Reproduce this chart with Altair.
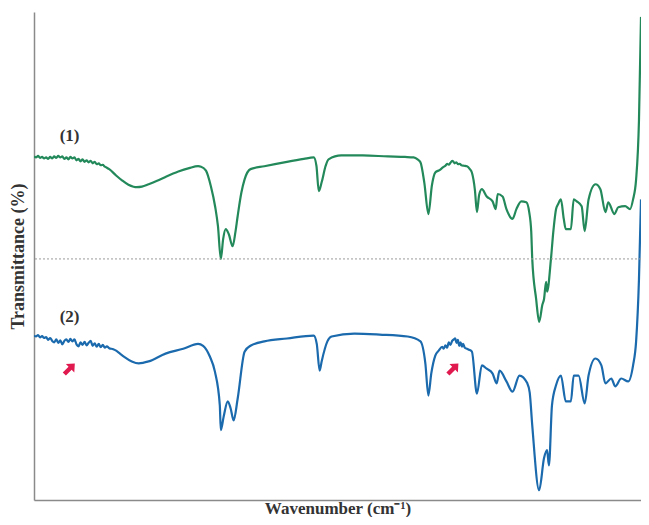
import altair as alt
import pandas as pd

# Spectrum (1) - green: wavenumber (cm-1) and transmittance (%)
wn_1 = [4000, 3988, 3976, 3964, 3952, 3940, 3928, 3916, 3904, 3892, 3880, 3868, 3856, 3844, 3832,
        3820, 3808, 3796, 3784, 3772, 3760, 3748, 3736, 3724, 3712, 3700, 3688, 3676, 3664, 3652,
        3640, 3628, 3616, 3604, 3592, 3580, 3568, 3554, 3513, 3478, 3440, 3410, 3390, 3360, 3320,
        3270, 3220, 3144, 3080, 3027, 3009, 2980, 2951, 2925, 2909, 2892, 2878, 2863, 2845, 2822,
        2805, 2792, 2770, 2751, 2716, 2634, 2500, 2400, 2341, 2325, 2311, 2294, 2270, 2253, 2177,
        2050, 1901, 1800, 1749, 1725, 1708, 1685, 1661, 1640, 1620, 1595, 1573, 1560, 1550, 1540,
        1530, 1520, 1514, 1505, 1495, 1485, 1475, 1465, 1450, 1432, 1415, 1403, 1385, 1373, 1360,
        1344, 1315, 1280, 1262, 1250, 1221, 1198, 1162, 1139, 1110, 1080, 1063, 1051, 1045, 1022,
        1004, 985, 975, 963, 957, 934, 920, 904, 892, 875, 858, 846, 816, 799, 781,
        752, 734, 711, 670, 641, 611, 594, 558, 535, 494, 465, 447, 429, 412, 400]
t_1 = [70.4, 70.2, 70.5, 70.1, 70.3, 70.0, 70.2, 69.9, 70.3, 70.0, 70.4, 70.1, 70.5, 70.2, 70.4,
       69.9, 70.2, 69.8, 70.3, 70.0, 70.2, 69.6, 69.9, 69.4, 69.8, 69.3, 69.6, 69.2, 69.5, 69.0,
       69.3, 68.8, 69.0, 68.6, 68.7, 68.3, 68.1, 67.8, 66.5, 65.5, 64.6, 64.2, 64.1, 64.2, 64.7,
       65.4, 66.2, 67.3, 68.0, 68.4, 68.3, 67.5, 64.3, 60.0, 56.1, 49.4, 53.5, 55.5, 54.5, 52.0,
       55.0, 58.2, 63.0, 65.7, 67.8, 68.4, 69.3, 69.9, 70.2, 68.5, 63.3, 65.1, 68.5, 69.8, 70.6,
       70.6, 70.4, 70.3, 70.2, 69.8, 69.2, 65.0, 58.6, 64.5, 67.1, 67.6, 68.2, 68.5, 68.9, 68.7,
       69.1, 69.5, 69.4, 69.0, 69.2, 68.8, 68.9, 68.6, 68.5, 68.4, 67.8, 67.1, 63.5, 59.0, 62.5,
       63.7, 62.2, 61.2, 59.6, 62.7, 62.2, 59.6, 57.6, 59.6, 61.2, 61.0, 59.0, 55.0, 49.4, 41.2,
       36.5, 40.0, 41.2, 44.7, 42.7, 49.4, 55.0, 59.6, 60.6, 61.6, 57.6, 55.5, 55.5, 61.6, 61.2,
       60.2, 55.1, 61.6, 64.7, 63.7, 59.0, 61.0, 58.6, 60.0, 60.2, 59.6, 61.6, 65.7, 77.8, 99.0]

# Spectrum (2) - blue
wn_2 = [4000, 3988, 3976, 3964, 3952, 3940, 3928, 3916, 3904, 3892, 3880, 3868, 3856, 3844, 3832,
        3820, 3808, 3796, 3784, 3772, 3760, 3748, 3736, 3724, 3712, 3700, 3688, 3676, 3664, 3652,
        3640, 3628, 3616, 3604, 3592, 3580, 3568, 3554, 3530, 3513, 3490, 3467, 3420, 3379, 3320,
        3220, 3115, 3027, 2997, 2957, 2927, 2898, 2892, 2875, 2851, 2834, 2816, 2792, 2751, 2716,
        2634, 2500, 2341, 2323, 2306, 2294, 2260, 2235, 2100, 1950, 1784, 1708, 1679, 1661, 1644,
        1620, 1600, 1579, 1570, 1560, 1550, 1540, 1530, 1520, 1510, 1502, 1494, 1486, 1478, 1470,
        1462, 1455, 1445, 1432, 1420, 1403, 1373, 1344, 1315, 1280, 1256, 1239, 1198, 1162, 1121,
        1074, 1060, 1045, 1004, 975, 957, 946, 928, 904, 875, 846, 816, 799, 770, 734,
        711, 670, 635, 611, 576, 553, 517, 476, 447, 429, 412, 400]
t_2 = [33.7, 33.5, 33.8, 33.3, 33.6, 33.2, 33.4, 32.8, 33.2, 32.6, 32.3, 32.9, 32.2, 32.7, 31.9,
       32.6, 32.9, 32.4, 33.0, 32.5, 32.9, 31.9, 31.5, 32.3, 31.8, 32.4, 31.7, 32.2, 32.6, 31.6,
       32.1, 31.4, 32.0, 31.3, 31.8, 31.2, 31.5, 31.1, 30.9, 30.6, 30.0, 29.4, 28.4, 28.0, 28.4,
       30.0, 31.0, 32.0, 31.6, 29.4, 26.3, 19.4, 14.3, 17.1, 20.2, 18.8, 16.3, 20.8, 30.4, 31.6,
       32.5, 33.1, 33.7, 32.0, 26.5, 28.4, 32.5, 33.5, 34.1, 33.9, 33.5, 32.5, 28.0, 21.4, 25.9,
       29.6, 30.6, 31.4, 31.0, 31.7, 31.2, 32.3, 31.8, 32.6, 32.9, 33.1, 32.2, 32.8, 31.6, 32.3,
       31.4, 32.0, 31.2, 31.0, 30.8, 30.4, 21.8, 27.6, 26.9, 25.9, 23.9, 26.5, 24.3, 22.2, 25.5,
       23.9, 22.0, 15.3, 2.0, 8.6, 10.2, 7.1, 19.4, 23.5, 25.5, 20.2, 20.2, 25.5, 25.5, 19.8,
       25.5, 29.0, 27.6, 23.9, 24.9, 23.3, 24.9, 24.3, 27.6, 32.5, 45.3, 61.6]

label_text = ["(1)", "(2)"]
label_wn = [3789, 3789]
label_t = [74.6, 37.4]

arrow_wn = [3789, 1514]
arrow_t = [26.9, 26.9]

separator_t = [49.4]

GREEN = "#23895b"
BLUE = "#1b6aad"
FONT = "Liberation Serif"

df1 = pd.DataFrame({"wn": wn_1, "t": t_1, "i": range(len(wn_1))})
df2 = pd.DataFrame({"wn": wn_2, "t": t_2, "i": range(len(wn_2))})
dfl = pd.DataFrame({"wn": label_wn, "t": label_t, "text": label_text})
dfa = pd.DataFrame({"wn": arrow_wn, "t": arrow_t})
dfs = pd.DataFrame({"t": separator_t})

xs = alt.Scale(domain=[400, 4000], reverse=True, nice=False, zero=False)
ys = alt.Scale(domain=[0, 100], nice=False, zero=False)

x_enc = alt.X("wn:Q", scale=xs, title="Wavenumber (cm⁻¹)",
              axis=alt.Axis(labels=False, ticks=False, grid=False, domainColor="#8a8a8a",
                            domainWidth=1.5, titleFont=FONT, titleFontSize=17, titleFontWeight="bold",
                            titleColor="#333333", titlePadding=0))
y_enc = alt.Y("t:Q", scale=ys, title="Transmittance (%)",
              axis=alt.Axis(labels=False, ticks=False, grid=False, domainColor="#8a8a8a",
                            domainWidth=1.5, titleFont=FONT, titleFontSize=18, titleFontWeight="bold",
                            titleColor="#333333", titlePadding=7))

sep = alt.Chart(dfs).mark_rule(color="#9a9a9a", strokeDash=[2, 2], strokeWidth=1).encode(
    y=alt.Y("t:Q", scale=ys))

line1 = alt.Chart(df1).mark_line(color=GREEN, strokeWidth=2.2, clip=True, interpolate="monotone").encode(
    x=x_enc, y=y_enc, order="i:Q")
line2 = alt.Chart(df2).mark_line(color=BLUE, strokeWidth=2.2, clip=True, interpolate="monotone").encode(
    x=alt.X("wn:Q", scale=xs), y=alt.Y("t:Q", scale=ys), order="i:Q")

labels = alt.Chart(dfl).mark_text(font=FONT, fontSize=17, fontWeight="bold", color="#333333").encode(
    x=alt.X("wn:Q", scale=xs), y=alt.Y("t:Q", scale=ys), text="text:N")

arrow_path = "M-1,-0.3L0.1,-0.3L0.1,-0.8L1,0L0.1,0.8L0.1,0.3L-1,0.3Z"
arrows = alt.Chart(dfa).mark_point(shape=arrow_path, filled=True, color="#e0194f", opacity=1,
                                   size=220, angle=315).encode(
    x=alt.X("wn:Q", scale=xs), y=alt.Y("t:Q", scale=ys))

chart = alt.layer(line2, line1, sep, labels, arrows).properties(
    width=607, height=488,
    autosize=alt.AutoSizeParams(type="none"),
    padding={"left": 26, "top": 4, "right": 0, "bottom": 17},
).configure_view(stroke=None)

chart.save("out.html", embed_options={"renderer": "svg", "actions": False})
